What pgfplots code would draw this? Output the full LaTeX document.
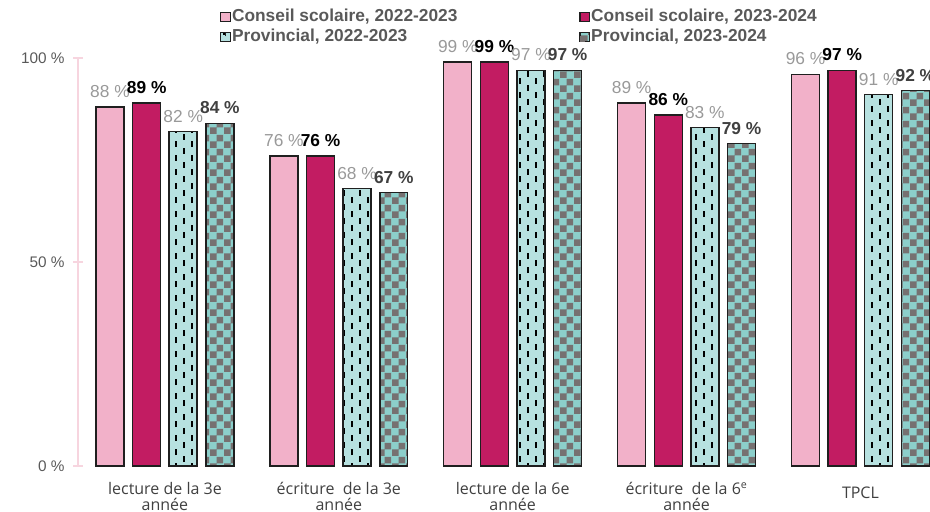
\documentclass[border=0pt]{standalone}
\usepackage{pgfplots}
\pgfplotsset{compat=1.18}
\usepackage{fontspec}
\setmainfont{Liberation Sans}
\newfontfamily\tickfont{Open Sans}
\usetikzlibrary{patterns}
\definecolor{cpink}{HTML}{F2B1C9}
\definecolor{cmag}{HTML}{C21C62}
\definecolor{ccyan}{HTML}{B7E1E0}
\definecolor{cteal}{HTML}{8CCFCB}
\definecolor{cgrayc}{HTML}{767171}
\definecolor{axpink}{HTML}{F7D5DF}
\definecolor{lblgray}{HTML}{999999}
\definecolor{tickgray}{HTML}{595959}
\definecolor{xlblcol}{HTML}{404040}
\definecolor{boldgray}{HTML}{404040}
\definecolor{barline}{HTML}{1F1F1F}
\pgfdeclarepatternformonly{bigcheck}{\pgfqpoint{0pt}{0pt}}{\pgfqpoint{10.5pt}{10.5pt}}{\pgfqpoint{10.5pt}{10.5pt}}{%
  \pgfpathrectangle{\pgfqpoint{0pt}{0pt}}{\pgfqpoint{5.25pt}{5.25pt}}%
  \pgfpathrectangle{\pgfqpoint{5.25pt}{5.25pt}}{\pgfqpoint{5.25pt}{5.25pt}}%
  \pgfusepath{fill}}
\pgfdeclarepatternformonly{vdash}{\pgfqpoint{-1pt}{0pt}}{\pgfqpoint{13pt}{10.5pt}}{\pgfqpoint{12pt}{10.5pt}}{%
  \pgfsetlinewidth{1.5pt}%
  \pgfpathmoveto{\pgfqpoint{0pt}{0pt}}\pgfpathlineto{\pgfqpoint{0pt}{4.5pt}}%
  \pgfpathmoveto{\pgfqpoint{6pt}{5.25pt}}\pgfpathlineto{\pgfqpoint{6pt}{9.75pt}}%
  \pgfusepath{stroke}}
\begin{document}
\begin{tikzpicture}
\begin{axis}[
  scale only axis, width=639pt, height=306pt,
  xmin=-0.5, xmax=4.4, ymin=0, ymax=100,
  ybar, bar width=0.161,
  axis lines*=left,
  x axis line style={draw=none},
  y axis line style={draw=axpink, line width=0.8pt},
  xtick={0,1,2,3,4},
  xticklabels={{lecture de la 3e\\année},{écriture\ \ de la 3e\\année},{lecture de la 6e\\année},{écriture\ \ de la 6\textsuperscript{e}\\année},{\raisebox{6pt}{TPCL}}},
  xtick style={draw=none},
  xticklabel style={font=\tickfont\fontsize{12}{12.2}\selectfont, align=center, anchor=center, yshift=-19.5pt, text=xlblcol},
  ytick={0,50,100},
  yticklabels={0 \%,50 \%,100 \%},
  ytick style={draw=axpink, line width=0.8pt},
  tick align=center, major tick length=7pt,
  yticklabel style={font=\fontsize{11.5}{13}\selectfont, text=tickgray, xshift=-3pt},
  /pgf/number format/assume math mode=true,
  nodes near coords={\pgfmathprintnumber{\pgfplotspointmeta}\ \%},
  every node near coord/.append style={anchor=south, yshift=3pt},
  legend columns=2,
  legend cell align=left,
  legend style={at={(0.162,1)}, anchor=south west, yshift=7pt, draw=none, fill=none,
    font=\bfseries\fontsize{13}{15}\selectfont, text=tickgray,
    nodes={inner sep=1pt, text depth=2pt, text height=9.5pt},
    row sep=1.5pt,
    /tikz/every even column/.append style={column sep=90.5pt}},
]
\addplot[fill=cpink, draw=barline, line width=1.1pt, bar shift=-0.316,
  every node near coord/.append style={font=\fontsize{13}{15}\selectfont, text=lblgray},
  legend image code/.code={\draw[fill=cpink, draw=barline, line width=0.8pt] (0pt,-3.5pt) rectangle (7pt,3.5pt);}]
  coordinates {(0,88) (1,76) (2,99) (3,89) (4,96)};
\addlegendentry{Conseil scolaire, 2022-2023}
\addplot[fill=cmag, draw=barline, line width=1.1pt, bar shift=-0.105,
  every node near coord/.append style={font=\bfseries\fontsize{13}{15}\selectfont, text=black},
  legend image code/.code={\draw[fill=cmag, draw=barline, line width=0.8pt] (0pt,-3.5pt) rectangle (7pt,3.5pt);}]
  coordinates {(0,89) (1,76) (2,99) (3,86) (4,97)};
\addlegendentry{Conseil scolaire, 2023-2024}
\addplot[fill=ccyan, postaction={pattern=vdash, pattern color=black}, draw=barline, line width=1.1pt, bar shift=0.105,
  every node near coord/.append style={font=\fontsize{13}{15}\selectfont, text=lblgray},
  legend image code/.code={\draw[fill=ccyan, draw=barline, line width=0.8pt] (0pt,-3.5pt) rectangle (7pt,3.5pt); \draw[line width=1pt] (3.5pt,0.5pt) -- (3.5pt,3.5pt);}]
  coordinates {(0,82) (1,68) (2,97) (3,83) (4,91)};
\addlegendentry{Provincial, 2022-2023}
\addplot[fill=cteal, postaction={pattern=bigcheck, pattern color=cgrayc}, draw=barline, line width=1.1pt, bar shift=0.316,
  every node near coord/.append style={font=\bfseries\fontsize{13}{15}\selectfont, text=boldgray},
  legend image code/.code={\draw[fill=cteal, draw=barline, line width=0.8pt] (0pt,-3.5pt) rectangle (7pt,3.5pt); \fill[cgrayc] (0.4pt,-3.1pt) rectangle (3.5pt,0pt);}]
  coordinates {(0,84) (1,67) (2,97) (3,79) (4,92)};
\addlegendentry{Provincial, 2023-2024}
\end{axis}
\pgfresetboundingbox
\path[use as bounding box] (-58.5pt,-33.75pt) rectangle (639pt,349.5pt);
\end{tikzpicture}
\end{document}
